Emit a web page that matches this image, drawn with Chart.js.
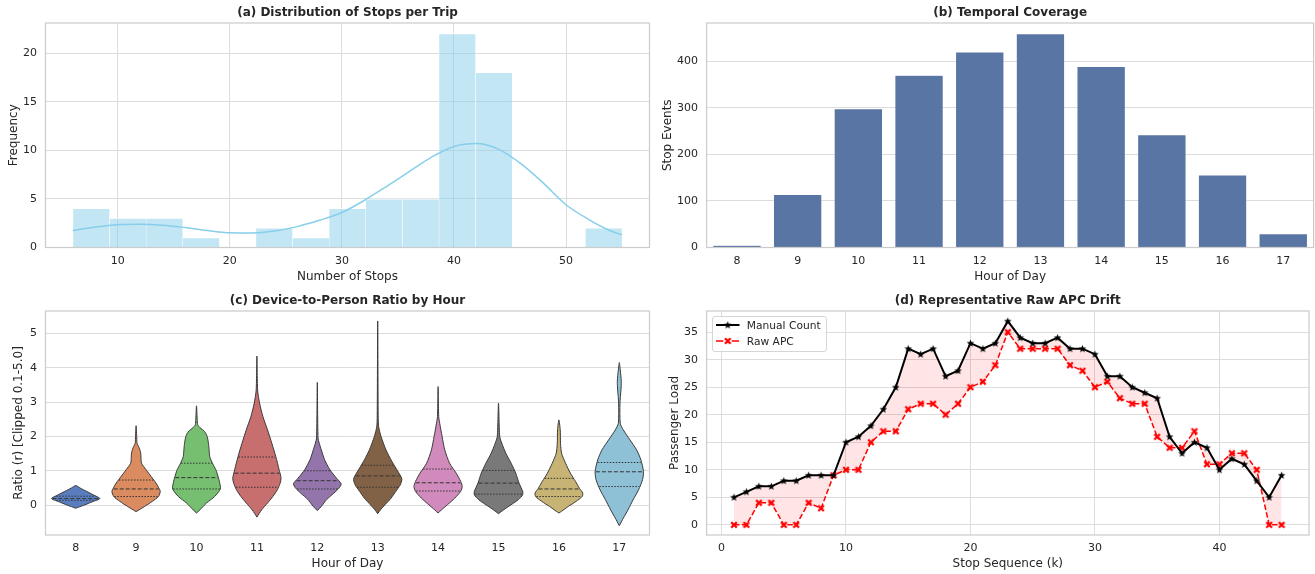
<!DOCTYPE html>
<html><head><meta charset="utf-8">
<script src="https://cdn.jsdelivr.net/npm/chart.js@4.4.1/dist/chart.umd.min.js"></script>
<style>
html,body{margin:0;padding:0;background:#fff;}
#wrap{position:relative;width:1315px;height:574px;overflow:hidden;background:#fff;}
canvas.c{position:absolute;}
#leg{position:absolute;left:712px;top:316px;width:113px;height:34px;border:1px solid #d6d6d6;border-radius:3px;background:rgba(255,255,255,0.85);z-index:5;}
#leg span{position:absolute;font-family:'DejaVu Sans',sans-serif;font-size:10.7px;line-height:13px;color:#262626;white-space:nowrap;}
#leg canvas{position:absolute;}
</style></head><body>
<div id="wrap">
<canvas id="ca" class="c" width="657" height="287" style="left:0;top:0;width:657px;height:287px"></canvas>
<canvas id="cb" class="c" width="658" height="287" style="left:657px;top:0;width:658px;height:287px"></canvas>
<canvas id="cc" class="c" width="657" height="287" style="left:0;top:287px;width:657px;height:287px"></canvas>
<canvas id="cd" class="c" width="658" height="287" style="left:657px;top:287px;width:658px;height:287px"></canvas>
<div id="leg">
  <canvas id="lg1" width="24" height="10" style="left:3px;top:3px"></canvas>
  <span style="left:33.7px;top:1.5px">Manual Count</span>
  <canvas id="lg2" width="24" height="10" style="left:3px;top:19px"></canvas>
  <span style="left:33.7px;top:17.5px">Raw APC</span>
</div>
</div>
<script>
// ---------- (a) Distribution of Stops per Trip ----------
const histEdges = [6.0, 9.27, 12.53, 15.8, 19.07, 22.33, 25.6, 28.87, 32.13, 35.4, 38.67, 41.93, 45.2, 48.47, 51.73, 55.0];
const histCounts = [4, 3, 3, 1, 0, 2, 1, 4, 5, 5, 22, 18, 0, 0, 2];
const kdeX = [6, 8, 10, 12, 14, 16, 18, 20, 22, 24, 26, 28, 30, 32, 34, 36, 38, 40, 42, 44, 46, 48, 50, 52, 54, 55];
const kdeY = [1.75, 2.1, 2.35, 2.4, 2.3, 2.05, 1.75, 1.52, 1.5, 1.7, 2.15, 2.8, 3.6, 4.85, 6.3, 7.8, 9.3, 10.4, 10.7, 10.1, 8.6, 6.6, 4.4, 2.9, 1.7, 1.3];
const stopsTicks = [10, 20, 30, 40, 50];
const freqTicks = [0, 5, 10, 15, 20];

// ---------- (b) Temporal Coverage ----------
const hours = ['8', '9', '10', '11', '12', '13', '14', '15', '16', '17'];
const stopEvents = [5, 114, 298, 370, 420, 459, 389, 242, 156, 30];
const eventTicks = [0, 100, 200, 300, 400];

// ---------- (c) Device-to-Person Ratio by Hour ----------
// outline: [ratio value, half-width in category units], bottom tip -> top tip
const violin8  = [[-0.09,0],[0.0,0.14],[0.1,0.28],[0.19,0.40],[0.3,0.29],[0.4,0.18],[0.5,0.07],[0.57,0]];
const violin9  = [[-0.19,0],[-0.04,0.14],[0.11,0.27],[0.25,0.37],[0.40,0.40],[0.52,0.37],[0.64,0.33],[0.83,0.25],[1.03,0.165],[1.22,0.09],[1.40,0.08],[1.51,0.077],[1.62,0.06],[1.71,0.04],[1.8,0.015],[2.0,0.01],[2.31,0]];
const violin10 = [[-0.23,0],[-0.14,0.055],[0.06,0.165],[0.25,0.30],[0.47,0.395],[0.64,0.385],[0.83,0.357],[1.03,0.32],[1.22,0.264],[1.41,0.22],[1.61,0.209],[1.8,0.198],[2.0,0.176],[2.15,0.13],[2.25,0.06],[2.34,0.02],[2.5,0.012],[2.89,0]];
const violin11 = [[-0.35,0],[-0.14,0.077],[0.06,0.176],[0.25,0.264],[0.45,0.34],[0.64,0.385],[0.78,0.40],[1.03,0.368],[1.41,0.313],[1.80,0.247],[2.19,0.176],[2.58,0.099],[2.97,0.044],[3.35,0.012],[4.34,0]];
const violin12 = [[-0.16,0],[-0.04,0.066],[0.16,0.154],[0.35,0.275],[0.49,0.357],[0.62,0.395],[0.78,0.32],[1.03,0.209],[1.32,0.121],[1.61,0.066],[1.80,0.033],[1.95,0.012],[3.57,0]];
const violin13 = [[-0.25,0],[-0.14,0.044],[0.01,0.121],[0.20,0.22],[0.40,0.30],[0.59,0.374],[0.74,0.40],[0.83,0.385],[1.08,0.30],[1.32,0.22],[1.61,0.137],[2.0,0.055],[2.29,0.015],[2.6,0.008],[5.36,0]];
const violin14 = [[-0.23,0],[-0.14,0.055],[0.01,0.154],[0.20,0.275],[0.40,0.374],[0.54,0.40],[0.69,0.374],[0.93,0.30],[1.22,0.19],[1.61,0.11],[2.0,0.066],[2.38,0.027],[2.58,0.01],[3.45,0]];
const violin15 = [[-0.25,0],[-0.14,0.082],[0.01,0.209],[0.16,0.33],[0.30,0.40],[0.40,0.40],[0.64,0.34],[0.93,0.286],[1.22,0.209],[1.51,0.121],[1.80,0.055],[2.0,0.02],[2.97,0]];
const violin16 = [[-0.23,0],[-0.18,0.044],[-0.04,0.154],[0.11,0.286],[0.25,0.385],[0.35,0.395],[0.49,0.34],[0.69,0.275],[0.93,0.19],[1.22,0.11],[1.51,0.044],[1.80,0.027],[2.19,0.022],[2.48,0]];
const violin17 = [[-0.60,0],[-0.38,0.066],[-0.14,0.143],[0.16,0.23],[0.45,0.32],[0.74,0.385],[0.98,0.40],[1.32,0.357],[1.61,0.286],[1.90,0.176],[2.19,0.066],[2.38,0.016],[2.97,0.011],[3.35,0.027],[3.60,0.033],[3.93,0.016],[4.15,0]];
const violinOutlines = [violin8, violin9, violin10, violin11, violin12, violin13, violin14, violin15, violin16, violin17];
const quartQ1  = [0.14, 0.25, 0.47, 0.52, 0.47, 0.52, 0.41, 0.32, 0.25, 0.54];
const quartMed = [0.19, 0.47, 0.80, 0.93, 0.71, 0.85, 0.65, 0.64, 0.47, 0.97];
const quartQ3  = [0.26, 0.73, 1.22, 1.40, 1.00, 1.16, 1.05, 1.01, 0.78, 1.24];
const violinColors = ['rgb(89,125,191)','rgb(218,139,95)','rgb(118,191,113)','rgb(199,110,110)','rgb(148,117,171)','rgb(130,98,70)','rgb(208,138,187)','rgb(121,121,121)','rgb(199,180,117)','rgb(142,193,214)'];
const ratioTicks = [0, 1, 2, 3, 4, 5];
const hourIdxTicks = [0, 1, 2, 3, 4, 5, 6, 7, 8, 9];

// ---------- (d) Representative Raw APC Drift ----------
const stopSeq = [1,2,3,4,5,6,7,8,9,10,11,12,13,14,15,16,17,18,19,20,21,22,23,24,25,26,27,28,29,30,31,32,33,34,35,36,37,38,39,40,41,42,43,44,45];
const manualCount = [5,6,7,7,8,8,9,9,9,15,16,18,21,25,32,31,32,27,28,33,32,33,37,34,33,33,34,32,32,31,27,27,25,24,23,16,13,15,14,10,12,11,8,5,9];
const rawAPC = [0,0,4,4,0,0,4,3,9,10,10,15,17,17,21,22,22,20,22,25,26,29,35,32,32,32,32,29,28,25,26,23,22,22,16,14,14,17,11,11,13,13,10,0,0];
const seqTicks = [0, 10, 20, 30, 40];
const loadTicks = [0, 5, 10, 15, 20, 25, 30, 35];

// ---------- common style ----------
Chart.defaults.font.family = "'DejaVu Sans', sans-serif";
Chart.defaults.color = '#262626';
Chart.defaults.animation = false;
const TXT = '#262626', GRID = '#dcdcdc';

const framePlugin = {
  id: 'frame',
  afterDatasetsDraw(chart) {
    const {ctx, chartArea: a} = chart;
    ctx.save();
    ctx.strokeStyle = '#cccccc';
    ctx.lineWidth = 1.25;
    ctx.strokeRect(a.left, a.top, a.right - a.left, a.bottom - a.top);
    ctx.restore();
  }
};

function linAxisX(min, max, ticks, title, showGrid, labelFn) {
  return {
    type: 'linear', min, max, offset: false,
    afterBuildTicks: s => { s.ticks = ticks.map(v => ({value: v})); },
    afterFit: s => { s.height = 36.5; },
    grid: {display: showGrid, color: GRID, lineWidth: 1, drawTicks: false, offset: false},
    border: {display: false},
    ticks: {padding: 7, color: TXT, font: {size: 11}, maxRotation: 0, autoSkip: false,
            callback: labelFn || (v => String(v))},
    title: {display: true, text: title, color: TXT, font: {size: 12}, padding: {top: 0, bottom: 0}}
  };
}
function linAxisY(min, max, ticks, title, width, tpad) {
  return {
    type: 'linear', min, max,
    afterBuildTicks: s => { s.ticks = ticks.map(v => ({value: v})); },
    afterFit: s => { s.width = width; },
    grid: {color: GRID, lineWidth: 1, drawTicks: false},
    border: {display: false},
    ticks: {padding: 8.5, color: TXT, font: {size: 11}, callback: v => String(v)},
    title: {display: true, text: title, color: TXT, font: {size: 12}, padding: {top: tpad, bottom: 0}}
  };
}
function titleOpt(text, top, bottom) {
  return {display: true, text, color: TXT, fullSize: false,
          font: {size: 12, weight: 'bold'}, padding: {top, bottom}};
}

// ---------- chart (a) ----------
const histCenters = histCounts.map((c, i) => (histEdges[i] + histEdges[i + 1]) / 2);
new Chart(document.getElementById('ca'), {
  type: 'bar',
  data: {
    datasets: [
      {type: 'line', data: kdeX.map((x, i) => ({x, y: kdeY[i]})), borderColor: '#87ceeb', borderWidth: 1.5,
       pointRadius: 0, cubicInterpolationMode: 'monotone', fill: false, order: 0},
      {type: 'bar', data: histCenters.map((x, i) => ({x, y: histCounts[i]})),
       backgroundColor: 'rgba(135,206,235,0.5)', borderColor: '#ffffff',
       borderWidth: {top: 0.8, left: 0.5, right: 0.5, bottom: 0}, borderSkipped: 'start',
       barPercentage: 1, categoryPercentage: 1, order: 1}
    ]
  },
  options: {
    responsive: false, devicePixelRatio: 1,
    layout: {padding: {left: 0, right: 7.5, top: 0, bottom: 3}},
    plugins: {legend: {display: false}, tooltip: {enabled: false},
              title: titleOpt('(a) Distribution of Stops per Trip', 5.8, 2.8)},
    scales: {
      x: linAxisX(3.55, 57.45, stopsTicks, 'Number of Stops', true),
      y: linAxisY(0, 23.1, freqTicks, 'Frequency', 45.5, 6.8)
    }
  },
  plugins: [framePlugin]
});

// ---------- chart (b) ----------
new Chart(document.getElementById('cb'), {
  type: 'bar',
  data: {labels: hours, datasets: [{data: stopEvents, backgroundColor: 'rgb(89,117,164)',
         borderColor: 'rgba(255,255,255,0.35)', borderWidth: 0.6, barPercentage: 0.8, categoryPercentage: 1}]},
  options: {
    responsive: false, devicePixelRatio: 1,
    layout: {padding: {left: 0, right: 1.4, top: 0, bottom: 3}},
    plugins: {legend: {display: false}, tooltip: {enabled: false},
              title: titleOpt('(b) Temporal Coverage', 5.8, 2.8)},
    scales: {
      x: {type: 'category', offset: true,
          afterFit: s => { s.height = 36.5; },
          grid: {display: false, drawTicks: false}, border: {display: false},
          ticks: {padding: 7, color: TXT, font: {size: 11}, maxRotation: 0, autoSkip: false},
          title: {display: true, text: 'Hour of Day', color: TXT, font: {size: 12}, padding: {top: 0, bottom: 0}}},
      y: linAxisY(0, 481.95, eventTicks, 'Stop Events', 49.6, 3.8)
    }
  },
  plugins: [framePlugin]
});

// ---------- chart (c) ----------
function halfWidthAt(outline, v) {
  for (let k = 0; k < outline.length - 1; k++) {
    const [v0, w0] = outline[k], [v1, w1] = outline[k + 1];
    if (v >= v0 && v <= v1) return w0 + (w1 - w0) * (v - v0) / (v1 - v0);
  }
  return 0;
}
const violinSets = [];
const quartSets = [];
violinOutlines.forEach((outline, i) => {
  const right = outline.map(([v, w]) => ({x: i + w, y: v}));
  const left = outline.slice().reverse().map(([v, w]) => ({x: i - w, y: v}));
  violinSets.push({data: right.concat(left.slice(1)), backgroundColor: violinColors[i], borderColor: '#3a3a3a',
    borderWidth: 1, pointRadius: 0, tension: 0.25, fill: 'shape', order: 2});
  [[quartQ1[i], [1.5, 1.5]], [quartMed[i], [4, 2]], [quartQ3[i], [1.5, 1.5]]].forEach(([q, dash]) => {
    const hw = halfWidthAt(outline, q) * 0.97;
    quartSets.push({data: [{x: i - hw, y: q}, {x: i + hw, y: q}], borderColor: '#333333', borderWidth: 1,
      borderDash: dash, pointRadius: 0, fill: false, order: 1});
  });
});
new Chart(document.getElementById('cc'), {
  type: 'line',
  data: {datasets: quartSets.concat(violinSets)},
  options: {
    responsive: false, devicePixelRatio: 1,
    layout: {padding: {left: 0, right: 7.5, top: 0, bottom: 2.5}},
    plugins: {legend: {display: false}, tooltip: {enabled: false},
              title: titleOpt('(c) Device-to-Person Ratio by Hour', 6.3, 3.3)},
    scales: {
      x: linAxisX(-0.5, 9.5, hourIdxTicks, 'Hour of Day', false, v => hours[v]),
      y: linAxisY(-0.87, 5.65, ratioTicks, 'Ratio (r) [Clipped 0.1-5.0]', 45.5, 11.5)
    }
  },
  plugins: [framePlugin]
});

// ---------- chart (d) ----------
function makeStar(color) {
  const c = document.createElement('canvas'); c.width = 9; c.height = 9;
  const g = c.getContext('2d'); g.fillStyle = color; g.beginPath();
  for (let k = 0; k < 10; k++) {
    const r = k % 2 === 0 ? 4.0 : 1.7; const a = -Math.PI / 2 + k * Math.PI / 5;
    const px = 4.5 + r * Math.cos(a), py = 4.7 + r * Math.sin(a);
    if (k === 0) g.moveTo(px, py); else g.lineTo(px, py);
  }
  g.closePath(); g.fill(); return c;
}
function makeX(color) {
  const c = document.createElement('canvas'); c.width = 8; c.height = 8;
  const g = c.getContext('2d'); g.strokeStyle = color; g.lineWidth = 2.3; g.lineCap = 'butt';
  g.beginPath(); g.moveTo(1.2, 1.2); g.lineTo(6.8, 6.8); g.moveTo(6.8, 1.2); g.lineTo(1.2, 6.8); g.stroke();
  return c;
}
const starImg = makeStar('#000000');
const xImg = makeX('#ff0000');
new Chart(document.getElementById('cd'), {
  type: 'line',
  data: {datasets: [
    {label: 'Manual Count', data: stopSeq.map((k, i) => ({x: k, y: manualCount[i]})), borderColor: '#000000',
     borderWidth: 2, pointStyle: starImg, pointRadius: 3, fill: false, tension: 0},
    {label: 'Raw APC', data: stopSeq.map((k, i) => ({x: k, y: rawAPC[i]})), borderColor: '#ff0000',
     borderWidth: 1.5, borderDash: [5.5, 2.4], pointStyle: xImg, pointRadius: 3, tension: 0,
     fill: '-1', backgroundColor: 'rgba(255,0,0,0.1)'}
  ]},
  options: {
    responsive: false, devicePixelRatio: 1,
    layout: {padding: {left: 0, right: 1.4, top: 0, bottom: 2.5}},
    plugins: {legend: {display: false}, tooltip: {enabled: false}, filler: {drawTime: 'beforeDatasetsDraw'},
              title: titleOpt('(d) Representative Raw APC Drift', 6.3, 3.3)},
    scales: {
      x: linAxisX(-1.2, 47.2, seqTicks, 'Stop Sequence (k)', true),
      y: linAxisY(-1.85, 38.85, loadTicks, 'Passenger Load', 49.6, 10.8)
    }
  },
  plugins: [framePlugin]
});

// ---------- legend samples for (d) ----------
(function () {
  const g1 = document.getElementById('lg1').getContext('2d');
  g1.strokeStyle = '#000'; g1.lineWidth = 2; g1.beginPath(); g1.moveTo(0, 5); g1.lineTo(23.5, 5); g1.stroke();
  g1.drawImage(starImg, 11.75 - 4.5, 5 - 4.5);
  const g2 = document.getElementById('lg2').getContext('2d');
  g2.strokeStyle = '#ff0000'; g2.lineWidth = 1.5; g2.setLineDash([7.3, 8.4]);
  g2.beginPath(); g2.moveTo(0, 5); g2.lineTo(23.5, 5); g2.stroke();
  g2.drawImage(xImg, 11.75 - 4, 5 - 4);
})();
</script>
</body></html>
